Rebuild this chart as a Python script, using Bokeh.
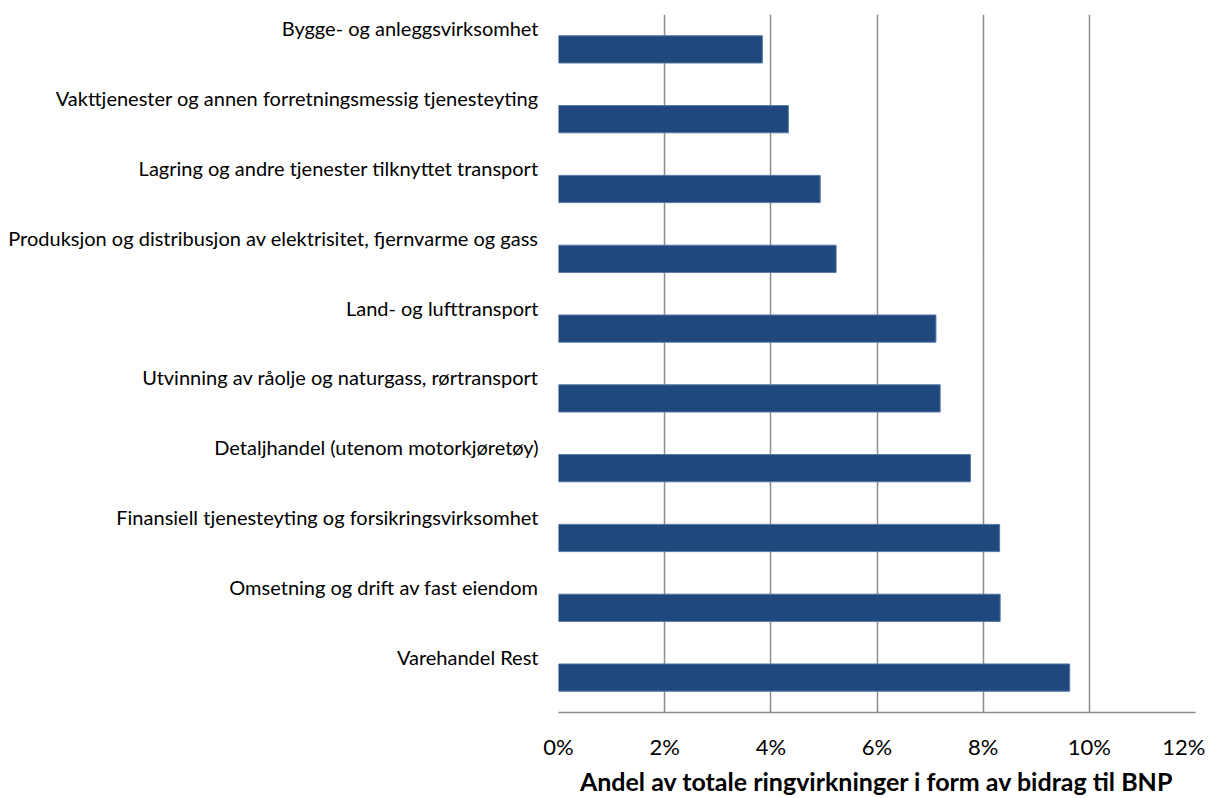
from bokeh.plotting import figure
from bokeh.models import FixedTicker, PrintfTickFormatter, Range1d, LinearAxis
from bokeh.embed import file_html
from bokeh.resources import INLINE

# Data (top to bottom)
categories = [
    "Bygge- og anleggsvirksomhet",
    "Vakttjenester og annen forretningsmessig tjenesteyting",
    "Lagring og andre tjenester tilknyttet transport",
    "Produksjon og distribusjon av elektrisitet, fjernvarme og gass",
    "Land- og lufttransport",
    "Utvinning av råolje og naturgass, rørtransport",
    "Detaljhandel (utenom motorkjøretøy)",
    "Finansiell tjenesteyting og forsikringsvirksomhet",
    "Omsetning og drift av fast eiendom",
    "Varehandel Rest",
]
values = [3.84, 4.33, 4.93, 5.23, 7.11, 7.19, 7.76, 8.31, 8.32, 9.63]  # percent
x_ticks = [0, 2, 4, 6, 8, 10, 12]
x_title = "Andel av totale ringvirkninger i form av bidrag til BNP"

n = len(categories)
ypos = list(range(n - 1, -1, -1))

FONT = "Lato"
LABEL_SHIFT = 0.3  # category labels sit above their bars (in band units)

p = figure(
    width=1205, height=798,
    x_range=Range1d(0, 12), y_range=Range1d(-0.5, n - 0.5),
    output_backend="svg", toolbar_location=None,
    min_border_left=558, min_border_right=10, min_border_top=14, min_border_bottom=86,
)
p.outline_line_color = None
p.background_fill_color = "white"
p.border_fill_color = "white"

p.hbar(y=ypos, left=0, right=values, height=0.39,
       fill_color="#1F497D", line_color="#5577a3", line_width=1)

# grid
p.ygrid.visible = False
p.xgrid.ticker = FixedTicker(ticks=x_ticks)
p.xgrid.grid_line_color = "#8c8c8c"
p.xgrid.grid_line_width = 1.5

# x axis
xa = p.xaxis[0]
xa.ticker = FixedTicker(ticks=x_ticks)
xa.formatter = PrintfTickFormatter(format="%d%%")
xa.axis_line_color = "#8c8c8c"
xa.axis_line_width = 1.5
xa.major_tick_line_color = None
xa.minor_tick_line_color = None
xa.major_tick_out = 0
xa.major_tick_in = 0
xa.major_label_standoff = 20
xa.major_label_text_font = FONT
xa.major_label_text_font_size = "22px"
xa.major_label_text_color = "black"
xa.axis_label = x_title
xa.axis_label_standoff = 3
xa.axis_label_text_font = FONT
xa.axis_label_text_font_size = "25px"
xa.axis_label_text_font_style = "bold"
xa.axis_label_text_color = "black"

# category axis (labels shifted above bars)
p.yaxis[0].visible = False
p.extra_y_ranges = {"lab": Range1d(-0.5 - LABEL_SHIFT, n - 0.5 - LABEL_SHIFT)}
ya = LinearAxis(y_range_name="lab")
ya.ticker = FixedTicker(ticks=ypos)
ya.major_label_overrides = {y: c for y, c in zip(ypos, categories)}
ya.axis_line_color = None
ya.major_tick_line_color = None
ya.minor_tick_line_color = None
ya.major_tick_out = 0
ya.major_tick_in = 0
ya.major_label_standoff = 20
ya.major_label_text_font = FONT
ya.major_label_text_font_size = "20px"
ya.major_label_text_color = "black"
p.add_layout(ya, "left")

open("out.html", "w").write(file_html(p, INLINE))
